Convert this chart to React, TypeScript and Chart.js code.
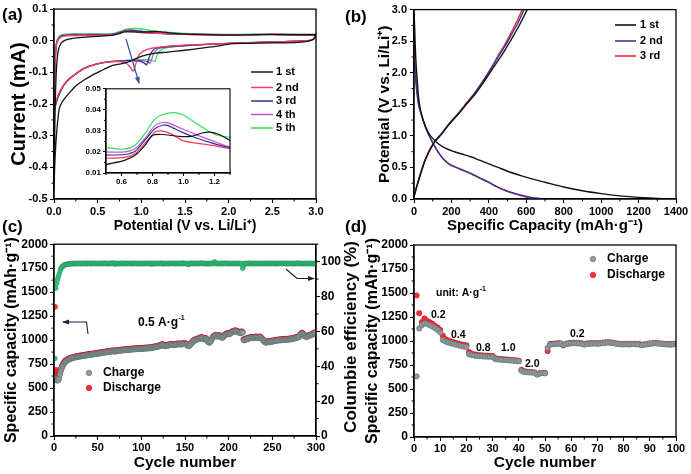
import React, { useEffect, useRef } from "react";
import { Chart, registerables } from "chart.js";

Chart.register(...registerables);

const FONT = "'Liberation Sans', Arial, Helvetica, sans-serif";

// ---------------- Panel (a): cyclic voltammetry ----------------
const cvLabels = ["1 st", "2 nd", "3 rd", "4 th", "5 th"];
const cvColors = ["#141414", "#ff3a5c", "#283593", "#c94fcf", "#34e05a"];

const cv1V = [3.0, 2.98, 2.9, 2.8, 2.5, 2.2, 2.05, 1.95, 1.85, 1.67, 1.5, 1.3, 1.17, 1.06, 0.95, 0.87, 0.78, 0.72, 0.65, 0.53, 0.43, 0.34, 0.25, 0.18, 0.13, 0.09, 0.06, 0.04, 0.025, 0.012, 0.004, 0.0,
  0.008, 0.016, 0.03, 0.05, 0.08, 0.13, 0.2, 0.3, 0.4, 0.5, 0.62, 0.69, 0.75, 0.8, 0.86, 0.97, 1.05, 1.12, 1.17, 1.23, 1.3, 1.45, 1.7, 2.0, 2.3, 2.6, 2.85, 2.97, 3.0];
const cv1I = [0.02, 0.006, -0.002, -0.005, -0.007, -0.008, -0.009, -0.013, -0.018, -0.024, -0.03, -0.036, -0.039, -0.045, -0.055, -0.065, -0.072, -0.075, -0.08, -0.096, -0.11, -0.125, -0.143, -0.163, -0.18, -0.195, -0.215, -0.26, -0.31, -0.37, -0.43, -0.47,
  -0.3, -0.18, -0.08, -0.03, -0.008, 0.002, 0.007, 0.01, 0.012, 0.014, 0.016, 0.0185, 0.023, 0.0278, 0.0283, 0.0274, 0.0274, 0.029, 0.0294, 0.0283, 0.0255, 0.022, 0.02, 0.018, 0.019, 0.019, 0.019, 0.019, 0.02];

const cv2V = [3.0, 2.97, 2.9, 2.5, 2.0, 1.5, 1.2, 1.06, 0.98, 0.94, 0.91, 0.88, 0.83, 0.75, 0.64, 0.49, 0.34, 0.18, 0.11, 0.05, 0.015, 0.0,
  0.005, 0.015, 0.03, 0.06, 0.1, 0.2, 0.35, 0.5, 0.62, 0.69, 0.75, 0.815, 0.86, 0.92, 0.99, 1.07, 1.18, 1.3, 1.5, 2.0, 2.4, 2.55, 2.7, 2.97, 3.0];
const cv2I = [0.02, 0.005, 0.0, -0.004, -0.008, -0.014, -0.02, -0.028, -0.042, -0.07, -0.096, -0.086, -0.072, -0.066, -0.067, -0.074, -0.089, -0.12, -0.14, -0.17, -0.2, -0.215,
  -0.15, -0.06, -0.01, 0.008, 0.014, 0.016, 0.016, 0.017, 0.0174, 0.0193, 0.024, 0.0294, 0.03, 0.0286, 0.0255, 0.0243, 0.0232, 0.0216, 0.02, 0.018, 0.02, 0.022, 0.019, 0.018, 0.02];

const cv3V = [3.0, 2.97, 2.9, 2.5, 2.0, 1.5, 1.25, 1.15, 1.1, 1.06, 1.03, 0.98, 0.85, 0.64, 0.49, 0.34, 0.18, 0.11, 0.05, 0.015, 0.0,
  0.005, 0.015, 0.03, 0.06, 0.1, 0.2, 0.35, 0.5, 0.62, 0.69, 0.75, 0.815, 0.87, 0.9, 0.99, 1.07, 1.18, 1.3, 1.5, 2.0, 2.5, 2.97, 3.0];
const cv3I = [0.02, 0.005, 0.0, -0.004, -0.008, -0.015, -0.02, -0.026, -0.045, -0.076, -0.07, -0.064, -0.063, -0.066, -0.073, -0.088, -0.12, -0.142, -0.175, -0.205, -0.22,
  -0.15, -0.06, -0.008, 0.01, 0.016, 0.018, 0.018, 0.0185, 0.0188, 0.0205, 0.0255, 0.031, 0.0328, 0.0325, 0.0294, 0.027, 0.0243, 0.022, 0.02, 0.019, 0.02, 0.019, 0.02];

const cv4V = [3.0, 2.97, 2.9, 2.5, 2.0, 1.5, 1.28, 1.19, 1.14, 1.1, 1.07, 1.0, 0.85, 0.64, 0.49, 0.34, 0.18, 0.11, 0.05, 0.015, 0.0,
  0.005, 0.015, 0.03, 0.06, 0.1, 0.2, 0.35, 0.5, 0.62, 0.69, 0.75, 0.815, 0.87, 0.91, 0.99, 1.07, 1.18, 1.3, 1.5, 2.0, 2.5, 2.97, 3.0];
const cv4I = [0.02, 0.005, 0.0, -0.004, -0.008, -0.015, -0.02, -0.026, -0.042, -0.071, -0.066, -0.062, -0.062, -0.066, -0.073, -0.088, -0.118, -0.14, -0.172, -0.205, -0.22,
  -0.15, -0.05, -0.005, 0.012, 0.018, 0.02, 0.02, 0.02, 0.02, 0.0216, 0.0263, 0.0325, 0.034, 0.0336, 0.031, 0.0286, 0.0255, 0.0224, 0.021, 0.019, 0.02, 0.02, 0.02];

const cv5V = [3.0, 2.97, 2.9, 2.5, 2.0, 1.5, 1.32, 1.24, 1.19, 1.155, 1.12, 1.05, 0.88, 0.64, 0.49, 0.34, 0.18, 0.11, 0.05, 0.015, 0.0,
  0.005, 0.015, 0.03, 0.06, 0.1, 0.2, 0.35, 0.5, 0.62, 0.687, 0.75, 0.815, 0.87, 0.934, 0.988, 1.074, 1.16, 1.225, 1.3, 1.5, 2.0, 2.5, 2.97, 3.0];
const cv5I = [0.02, 0.005, 0.0, -0.004, -0.008, -0.016, -0.021, -0.027, -0.04, -0.066, -0.062, -0.06, -0.061, -0.067, -0.074, -0.089, -0.12, -0.142, -0.175, -0.21, -0.225,
  -0.15, -0.05, -0.003, 0.014, 0.02, 0.022, 0.022, 0.0221, 0.0213, 0.0232, 0.0286, 0.0356, 0.0379, 0.0387, 0.0379, 0.034, 0.03, 0.0278, 0.027, 0.023, 0.02, 0.021, 0.02, 0.02];

const aXTicks = [0, 0.5, 1, 1.5, 2, 2.5, 3];
const aYTicks = [-0.5, -0.4, -0.3, -0.2, -0.1, 0, 0.1];
const insetXTicks = [0.6, 0.8, 1.0, 1.2];
const insetYTicks = [0.01, 0.02, 0.03, 0.04, 0.05];

// ---------------- Panel (b): charge / discharge profiles ----------------
const gcLabels = ["1 st", "2 nd", "3 rd"];
const gcColors = ["#111111", "#2f3b9c", "#ff2438"];

const b1DisC = [0, 3, 7, 12, 18, 25, 35, 50, 77, 100, 130, 170, 219, 270, 308, 350, 397, 450, 500, 575, 640, 700, 800, 900, 1000, 1100, 1200, 1300, 1350];
const b1DisV = [2.95, 2.75, 2.4, 2.1, 1.85, 1.6, 1.4, 1.24, 1.05, 0.96, 0.875, 0.8, 0.745, 0.7, 0.665, 0.615, 0.56, 0.5, 0.44, 0.366, 0.31, 0.265, 0.19, 0.13, 0.085, 0.05, 0.025, 0.01, 0.0];
const b1ChC = [0, 20, 59, 103, 148, 190, 237, 280, 326, 370, 415, 455, 486, 520, 557, 585, 605];
const b1ChV = [0.04, 0.25, 0.61, 0.875, 1.03, 1.19, 1.345, 1.5, 1.66, 1.84, 2.04, 2.22, 2.36, 2.53, 2.72, 2.88, 3.0];

const b2DisC = [0, 5, 10, 16, 25, 41, 60, 77, 95, 112, 140, 166, 190, 219, 260, 308, 350, 397, 440, 486, 530, 575, 620, 660, 690];
const b2DisV = [2.3, 2.05, 1.85, 1.66, 1.48, 1.32, 1.15, 1.03, 0.92, 0.83, 0.7, 0.61, 0.55, 0.51, 0.46, 0.4, 0.335, 0.27, 0.2, 0.14, 0.095, 0.06, 0.03, 0.012, 0.0];
const b2ChC = [0, 20, 59, 103, 148, 190, 237, 280, 326, 370, 415, 455, 486, 520, 557, 588];
const b2ChV = [0.04, 0.25, 0.61, 0.875, 1.04, 1.2, 1.355, 1.51, 1.68, 1.87, 2.08, 2.28, 2.42, 2.6, 2.8, 3.0];

const b3DisC = [0, 3, 7, 12, 18, 27, 41, 60, 77, 95, 112, 140, 166, 190, 219, 260, 308, 350, 397, 440, 486, 530, 575, 615, 650];
const b3DisV = [2.65, 2.3, 2.05, 1.85, 1.68, 1.5, 1.33, 1.15, 1.03, 0.92, 0.82, 0.69, 0.6, 0.545, 0.505, 0.455, 0.395, 0.33, 0.265, 0.195, 0.135, 0.09, 0.05, 0.02, 0.0];
const b3ChC = [0, 20, 59, 103, 148, 190, 237, 280, 326, 370, 415, 455, 486, 520, 557, 578];
const b3ChV = [0.05, 0.26, 0.62, 0.88, 1.04, 1.2, 1.36, 1.52, 1.69, 1.88, 2.09, 2.3, 2.45, 2.64, 2.86, 3.0];

const bXTicks = [0, 200, 400, 600, 800, 1000, 1200, 1400];
const bYTicks = [0, 0.5, 1, 1.5, 2, 2.5, 3];

// ---------------- Panel (c): cycling at 0.5 A/g ----------------
const cycleNumbers = Array.from({ length: 300 }, (_, i) => i + 1);
const capDischarge = [
  1347, 690, 662, 645, 636, 648, 675, 705, 728, 748,
  762, 775, 785, 792, 798, 803, 808, 812, 815, 818,
  820, 823, 826, 828, 830, 832, 834, 836, 837, 839,
  840, 842, 843, 845, 846, 848, 849, 850, 852, 853,
  855, 856, 857, 859, 860, 862, 863, 864, 866, 867,
  869, 870, 872, 873, 875, 876, 878, 879, 880, 882,
  883, 884, 886, 887, 888, 890, 891, 892, 893, 886,
  894, 895, 896, 897, 898, 899, 900, 901, 902, 903,
  904, 905, 906, 907, 908, 908, 909, 910, 911, 912,
  912, 913, 914, 914, 915, 916, 916, 917, 918, 918,
  919, 919, 920, 921, 921, 922, 922, 923, 924, 924,
  925, 927, 929, 931, 933, 935, 937, 939, 941, 943,
  945, 950, 955, 957, 953, 948, 946, 947, 949, 951,
  953, 955, 957, 958, 960, 958, 956, 957, 960, 962,
  963, 965, 966, 964, 962, 963, 966, 968, 970, 968,
  965, 958, 950, 945, 948, 958, 970, 980, 990, 1000,
  1005, 1008, 1012, 1015, 1018, 1020, 1022, 1030, 1035, 1028,
  1020, 1015, 1018, 1022, 1010, 995, 985, 980, 990, 1000,
  1020, 1035, 1045, 1050, 1055, 1050, 1045, 1048, 1052, 1048,
  1040, 1035, 1030, 1045, 1055, 1060, 1065, 1070, 1075, 1072,
  1070, 1078, 1085, 1090, 1095, 1098, 1100, 1102, 1098, 1095,
  1090, 1085, 1080, 1088, 1092, 1085, 1010, 1005, 1010, 1015,
  1020, 1025, 1022, 1028, 1032, 1035, 1030, 1028, 1032, 1035,
  1038, 1036, 1032, 1028, 1035, 1038, 1030, 1020, 1010, 1000,
  990, 985, 982, 985, 990, 988, 985, 990, 995, 992,
  995, 998, 1000, 1002, 1003, 1005, 1006, 1005, 1007, 1008,
  1008, 1010, 1011, 1010, 1012, 1013, 1012, 1014, 1015, 1016,
  1017, 1018, 1020, 1022, 1025, 1028, 1030, 1032, 1035, 1040,
  1045, 1060, 1070, 1078, 1072, 1060, 1050, 1045, 1042, 1045,
  1048, 1052, 1055, 1060, 1062, 1068, 1072, 1078, 1082, 1085,
];
const capCharge = [
  600, 585, 580, 578, 581, 602, 640, 678, 705, 728,
  745, 760, 771, 779, 786, 792, 797, 801, 805, 808,
  811, 814, 817, 819, 821, 823, 825, 827, 828, 830,
  831, 833, 834, 836, 837, 839, 840, 841, 843, 844,
  846, 847, 848, 850, 851, 853, 854, 855, 857, 858,
  860, 861, 863, 864, 866, 867, 869, 870, 871, 873,
  874, 875, 877, 878, 879, 881, 882, 883, 884, 878,
  885, 886, 887, 888, 889, 890, 891, 892, 893, 894,
  895, 896, 897, 898, 899, 899, 900, 901, 902, 903,
  903, 904, 905, 905, 906, 907, 907, 908, 909, 909,
  910, 910, 911, 912, 912, 913, 913, 914, 915, 915,
  916, 918, 920, 922, 924, 926, 928, 930, 932, 934,
  936, 941, 946, 948, 944, 939, 937, 938, 940, 942,
  944, 946, 948, 949, 951, 949, 947, 948, 951, 953,
  954, 956, 957, 955, 953, 954, 957, 959, 961, 959,
  956, 949, 941, 936, 939, 949, 961, 971, 981, 991,
  996, 999, 1003, 1006, 1009, 1011, 1013, 1021, 1026, 1019,
  1011, 1006, 1009, 1013, 1001, 986, 976, 971, 981, 991,
  1011, 1026, 1036, 1041, 1046, 1041, 1036, 1039, 1043, 1039,
  1031, 1026, 1021, 1036, 1046, 1051, 1056, 1061, 1066, 1063,
  1061, 1069, 1076, 1081, 1086, 1089, 1091, 1093, 1089, 1086,
  1081, 1076, 1071, 1079, 1083, 1076, 1001, 996, 1001, 1006,
  1011, 1016, 1013, 1019, 1023, 1026, 1021, 1019, 1023, 1026,
  1029, 1027, 1023, 1019, 1026, 1029, 1021, 1011, 1001, 991,
  981, 976, 973, 976, 981, 979, 976, 981, 986, 983,
  986, 989, 991, 993, 994, 996, 997, 996, 998, 999,
  999, 1001, 1002, 1001, 1003, 1004, 1003, 1005, 1006, 1007,
  1008, 1009, 1011, 1013, 1016, 1019, 1021, 1023, 1026, 1031,
  1036, 1051, 1061, 1069, 1063, 1051, 1041, 1036, 1033, 1036,
  1039, 1043, 1046, 1051, 1053, 1059, 1063, 1069, 1073, 1076,
];
const efficiency = [
  44.5, 84.8, 87.6, 89.6, 91.4, 92.9, 94.8, 96.2, 96.8, 97.3,
  97.8, 98.1, 98.2, 98.4, 98.5, 98.6, 98.6, 98.7, 98.8, 98.8,
  98.9, 98.9, 98.8, 99.0, 98.9, 98.9, 99.0, 98.9, 98.9, 99.0,
  98.8, 98.9, 99.0, 98.9, 99.1, 98.9, 98.8, 98.9, 99.2, 98.9,
  99.0, 98.9, 98.8, 99.0, 98.9, 99.1, 98.9, 98.9, 99.0, 98.8,
  98.9, 99.0, 98.9, 98.8, 99.0, 98.9, 99.1, 99.0, 98.9, 98.9,
  99.0, 98.8, 98.9, 99.0, 98.9, 98.9, 99.3, 98.9, 98.8, 98.6,
  99.0, 98.9, 99.0, 98.9, 98.8, 99.0, 98.9, 99.1, 98.9, 98.9,
  98.9, 99.0, 98.8, 98.9, 99.0, 98.9, 99.0, 98.9, 98.8, 99.0,
  98.9, 99.0, 98.9, 99.1, 98.9, 98.8, 98.9, 99.0, 98.9, 98.9,
  99.0, 98.9, 98.8, 99.0, 98.9, 99.0, 98.9, 98.9, 99.1, 98.9,
  98.9, 98.6, 98.9, 99.0, 98.9, 98.8, 99.0, 98.9, 99.0, 98.9,
  98.9, 99.2, 99.0, 98.9, 98.7, 98.9, 99.0, 98.9, 98.9, 99.0,
  98.8, 98.9, 99.0, 98.9, 99.1, 98.9, 98.9, 99.0, 98.8, 98.9,
  99.0, 98.9, 98.9, 99.0, 98.8, 98.9, 99.2, 98.9, 98.9, 99.0,
  98.9, 98.8, 98.9, 98.3, 98.9, 99.0, 98.9, 99.1, 98.9, 98.9,
  99.0, 98.9, 99.0, 98.8, 98.9, 99.0, 98.9, 99.2, 99.0, 98.9,
  98.9, 98.9, 99.0, 98.8, 98.9, 99.0, 98.7, 98.9, 99.0, 98.9,
  98.9, 99.0, 99.3, 99.8, 99.0, 98.9, 98.9, 99.0, 98.8, 98.9,
  99.0, 98.9, 98.9, 99.0, 98.9, 99.1, 98.9, 98.9, 99.0, 98.9,
  98.8, 98.9, 99.0, 98.9, 99.0, 98.9, 98.8, 98.9, 99.0, 98.9,
  98.9, 99.0, 98.9, 98.8, 98.9, 96.2, 97.8, 98.9, 99.0, 98.9,
  98.9, 99.0, 98.9, 99.1, 98.9, 98.9, 99.0, 98.8, 98.9, 99.0,
  98.9, 98.9, 99.0, 98.9, 98.8, 99.0, 98.9, 99.0, 98.9, 98.9,
  99.0, 98.9, 98.8, 99.0, 98.9, 98.9, 99.1, 98.9, 98.9, 99.0,
  98.9, 99.0, 98.9, 98.8, 98.9, 99.0, 98.9, 98.9, 99.0, 98.9,
  98.9, 99.0, 98.9, 99.1, 98.9, 98.8, 98.9, 99.0, 98.9, 98.9,
  99.0, 98.9, 98.9, 99.0, 98.8, 98.9, 99.0, 98.9, 99.2, 98.9,
  98.9, 99.0, 98.9, 98.9, 99.0, 98.8, 98.9, 99.0, 98.9, 98.9,
  99.0, 98.9, 98.9, 99.0, 98.9, 98.8, 99.0, 98.9, 98.9, 99.0,
];
const cXTicks = [0, 50, 100, 150, 200, 250, 300];
const capTicks = [0, 250, 500, 750, 1000, 1250, 1500, 1750, 2000];
const effTicks = [0, 20, 40, 60, 80, 100];

// ---------------- Panel (d): rate capability ----------------
const rateCycles = Array.from({ length: 100 }, (_, i) => i + 1);
const rateDischarge = [
  1475, 1290, 1195, 1235, 1210, 1195, 1180, 1160, 1140, 1115,
  1055, 1020, 1005, 995, 988, 980, 972, 965, 958, 955,
  885, 868, 860, 855, 852, 850, 848, 847, 845, 845,
  820, 815, 812, 810, 808, 806, 803, 800, 798, 795,
  700, 685, 680, 678, 676, 673, 652, 665, 668, 667,
  895, 968, 972, 974, 976, 975, 955, 972, 976, 980,
  982, 980, 978, 976, 965, 974, 976, 977, 978, 976,
  978, 982, 985, 988, 986, 982, 975, 972, 970, 968,
  970, 968, 970, 972, 969, 968, 960, 965, 970, 975,
  978, 980, 978, 975, 972, 970, 968, 966, 970, 972,
];
const rateCharge = [
  632, 1130, 1165, 1185, 1178, 1165, 1150, 1135, 1115, 1090,
  1010, 995, 985, 976, 970, 962, 955, 948, 942, 938,
  862, 853, 848, 845, 842, 840, 838, 837, 836, 835,
  812, 808, 805, 803, 801, 799, 797, 795, 792, 790,
  690, 678, 675, 673, 671, 668, 650, 662, 665, 664,
  930, 962, 967, 970, 972, 971, 958, 968, 972, 976,
  978, 976, 974, 972, 963, 970, 972, 973, 974, 972,
  974, 978, 981, 984, 982, 978, 972, 968, 966, 964,
  966, 964, 966, 968, 965, 964, 957, 961, 966, 971,
  974, 976, 974, 971, 968, 966, 964, 962, 966, 968,
];
const rateLabels = ["0.2", "0.4", "0.8", "1.0", "2.0", "0.2"];
const dXTicks = [0, 10, 20, 30, 40, 50, 60, 70, 80, 90, 100];

// ---------------- styling ----------------
const RED_FILL = "#ff2d3c";
const RED_EDGE = "#c8101c";
const GREY_FILL = "#8c9b9b";
const GREY_EDGE = "#5e6e6e";
const GREEN_FILL = "#3dbd7d";
const GREEN_EDGE = "#1f9a5c";
const ARROW_BLUE = "#2f4fa5";
const ARROW_DARK = "#1c2340";

const xy = (xs: number[], ys: number[]) => xs.map((x, i) => ({ x, y: ys[i] }));

function linAxis(o: any) {
  const horizontal = o.position === "bottom";
  return {
    type: "linear",
    position: o.position,
    min: o.min,
    max: o.max,
    afterBuildTicks: (s: any) => {
      s.ticks = o.ticks.map((v: number) => ({ value: v }));
    },
    afterFit: (s: any) => {
      if (horizontal) s.height = o.size;
      else s.width = o.size;
    },
    grid: { display: true, drawOnChartArea: false, drawTicks: true, tickLength: o.tickLen ?? 4, tickColor: "#000", tickWidth: 1.1 },
    border: { display: true, color: "#000", width: 1.3 },
    ticks: {
      autoSkip: false,
      maxRotation: 0,
      padding: o.tickPad ?? 2,
      color: "#000",
      font: { family: FONT, size: o.font, weight: "bold" },
      callback: (v: number) => o.fmt(v),
    },
    title: o.title
      ? {
          display: true,
          text: o.title,
          color: "#000",
          font: { family: FONT, size: o.titleSize, weight: "bold" },
          padding: horizontal ? { top: 0, bottom: o.titlePad ?? 0 } : { top: o.titlePad ?? 0, bottom: 0 },
        }
      : { display: false },
  };
}

function makeExtras(cfg: any) {
  return {
    id: "extras",
    beforeDraw(chart: any) {
      if (!cfg.fill) return;
      const { left, top, right, bottom } = chart.chartArea;
      const ctx = chart.ctx;
      ctx.save();
      ctx.fillStyle = cfg.fill;
      ctx.fillRect(left, top, right - left, bottom - top);
      ctx.restore();
    },
    afterDraw(chart: any) {
      const ctx: CanvasRenderingContext2D = chart.ctx;
      const { left, top, right, bottom } = chart.chartArea;
      ctx.save();
      ctx.strokeStyle = "#000";
      ctx.lineWidth = cfg.frameWidth ?? 1.3;
      ctx.strokeRect(left, top, right - left, bottom - top);
      ctx.lineWidth = 1;
      for (const m of cfg.minor || []) {
        const s = chart.scales[m.id];
        const k0 = Math.ceil(s.min / m.step - 1e-6);
        const k1 = Math.floor(s.max / m.step + 1e-6);
        for (let k = k0; k <= k1; k++) {
          const v = k * m.step;
          if (s.ticks.some((t: any) => Math.abs(t.value - v) < m.step * 0.01)) continue;
          const p = s.getPixelForValue(v);
          ctx.beginPath();
          if (s.position === "left") {
            ctx.moveTo(left, p);
            ctx.lineTo(left - m.len, p);
          } else if (s.position === "right") {
            ctx.moveTo(right, p);
            ctx.lineTo(right + m.len, p);
          } else {
            ctx.moveTo(p, bottom);
            ctx.lineTo(p, bottom + m.len);
          }
          ctx.stroke();
        }
      }
      if (cfg.draw) cfg.draw(ctx, chart);
      ctx.restore();
    },
  };
}

function supText(ctx: CanvasRenderingContext2D, base: string, sup: string, x: number, y: number, size: number) {
  ctx.textAlign = "left";
  ctx.textBaseline = "middle";
  ctx.fillStyle = "#000";
  ctx.font = `bold ${size}px ${FONT}`;
  ctx.fillText(base, x, y);
  if (sup) {
    const w = ctx.measureText(base).width;
    ctx.font = `bold ${Math.round(size * 0.62)}px ${FONT}`;
    ctx.fillText(sup, x + w + 0.5, y - size * 0.4);
  }
}

function arrow(ctx: CanvasRenderingContext2D, pts: number[][], color: string, lw = 1.2, head = 6) {
  ctx.strokeStyle = color;
  ctx.fillStyle = color;
  ctx.lineWidth = lw;
  ctx.beginPath();
  ctx.moveTo(pts[0][0], pts[0][1]);
  for (let i = 1; i < pts.length; i++) ctx.lineTo(pts[i][0], pts[i][1]);
  ctx.stroke();
  const [x1, y1] = pts[pts.length - 2];
  const [x2, y2] = pts[pts.length - 1];
  const a = Math.atan2(y2 - y1, x2 - x1);
  const c = Math.cos(a), s = Math.sin(a);
  ctx.beginPath();
  ctx.moveTo(x2 + c * 1, y2 + s * 1);
  ctx.lineTo(x2 - head * c + head * 0.42 * s, y2 - head * s - head * 0.42 * c);
  ctx.lineTo(x2 - head * c - head * 0.42 * s, y2 - head * s + head * 0.42 * c);
  ctx.closePath();
  ctx.fill();
}

function ball(ctx: CanvasRenderingContext2D, x: number, y: number, r: number, fill: string, edge: string) {
  ctx.beginPath();
  ctx.arc(x, y, r, 0, Math.PI * 2);
  ctx.fillStyle = fill;
  ctx.fill();
  ctx.strokeStyle = edge;
  ctx.lineWidth = 0.6;
  ctx.stroke();
}

const baseOptions = (padding: any) => ({
  animation: false,
  responsive: false,
  devicePixelRatio: 1,
  layout: { padding },
  plugins: { legend: { display: false }, tooltip: { enabled: false } },
});

function cvDatasets(width: number) {
  const V = [cv1V, cv2V, cv3V, cv4V, cv5V];
  const I = [cv1I, cv2I, cv3I, cv4I, cv5I];
  return V.map((v, k) => ({
    label: cvLabels[k],
    data: xy(v, I[k]),
    borderColor: cvColors[k],
    backgroundColor: cvColors[k],
    borderWidth: width,
    showLine: true,
    pointRadius: 0,
    tension: 0.25,
    fill: false,
  }));
}

function configA(): any {
  return {
    type: "scatter",
    data: { datasets: cvDatasets(1.3) },
    options: {
      ...baseOptions({ left: 0, top: 7, right: 29, bottom: 0 }),
      scales: {
        x: linAxis({ position: "bottom", min: 0, max: 3, ticks: aXTicks, fmt: (v: number) => v.toFixed(1), font: 11, size: 36, title: "Potential (V vs. Li/Li\u207A)", titleSize: 14, titlePad: 0, tickLen: 4, tickPad: 2.5 }),
        y: linAxis({ position: "left", min: -0.5, max: 0.1, ticks: aYTicks, fmt: (v: number) => v.toFixed(1), font: 11, size: 54, title: "Current (mA)", titleSize: 20, titlePad: 7.5, tickLen: 4, tickPad: 2.5 }),
      },
    },
    plugins: [
      makeExtras({
        minor: [{ id: "x", step: 0.25, len: 2.5 }, { id: "y", step: 0.05, len: 2.5 }],
        draw: (ctx: CanvasRenderingContext2D) => {
          const rows = [72, 87.5, 101, 114.5, 128];
          cvLabels.forEach((lab, k) => {
            ctx.strokeStyle = cvColors[k];
            ctx.lineWidth = 1.5;
            ctx.beginPath();
            ctx.moveTo(251, rows[k]);
            ctx.lineTo(273, rows[k]);
            ctx.stroke();
            supText(ctx, lab, "", 276, rows[k], 11);
          });
          arrow(ctx, [[126, 39], [139, 83]], ARROW_BLUE, 1.2, 6);
        },
      }),
    ],
  };
}

function configInset(): any {
  return {
    type: "scatter",
    data: { datasets: cvDatasets(1.2) },
    options: {
      ...baseOptions({ left: 0, top: 5, right: 8, bottom: 0 }),
      scales: {
        x: linAxis({ position: "bottom", min: 0.5, max: 1.3, ticks: insetXTicks, fmt: (v: number) => v.toFixed(1), font: 8, size: 15, tickLen: 3, tickPad: 1 }),
        y: linAxis({ position: "left", min: 0.01, max: 0.05, ticks: insetYTicks, fmt: (v: number) => v.toFixed(2), font: 8, size: 28, tickLen: 3, tickPad: 2 }),
      },
    },
    plugins: [makeExtras({ fill: "#ffffff", frameWidth: 1.1, minor: [{ id: "x", step: 0.1, len: 2 }, { id: "y", step: 0.005, len: 2 }] })],
  };
}

function configB(): any {
  const dis = [[b1DisC, b1DisV], [b2DisC, b2DisV], [b3DisC, b3DisV]];
  const ch = [[b1ChC, b1ChV], [b2ChC, b2ChV], [b3ChC, b3ChV]];
  const datasets: any[] = [];
  for (let k = 0; k < 3; k++) {
    for (const [xs, ys] of [dis[k], ch[k]]) {
      datasets.push({
        label: gcLabels[k],
        data: xy(xs as number[], ys as number[]),
        borderColor: gcColors[k],
        backgroundColor: gcColors[k],
        borderWidth: 1.4,
        showLine: true,
        pointRadius: 0,
        cubicInterpolationMode: "monotone",
        fill: false,
      });
    }
  }
  return {
    type: "scatter",
    data: { datasets },
    options: {
      ...baseOptions({ left: 0, top: 8, right: 15, bottom: 0 }),
      scales: {
        x: linAxis({ position: "bottom", min: 0, max: 1400, ticks: bXTicks, fmt: (v: number) => String(v), font: 11, size: 36, title: "Specific Capacity (mAh\u00B7g\u207B\u00B9)", titleSize: 15, titlePad: 0, tickLen: 4, tickPad: 2.5 }),
        y: linAxis({ position: "left", min: 0, max: 3, ticks: bYTicks, fmt: (v: number) => v.toFixed(1), font: 11, size: 69, title: "Potential (V vs. Li/Li\u207A)", titleSize: 15.5, titlePad: 30, tickLen: 4, tickPad: 3 }),
      },
    },
    plugins: [
      makeExtras({
        minor: [{ id: "x", step: 100, len: 2.5 }, { id: "y", step: 0.25, len: 2.5 }],
        draw: (ctx: CanvasRenderingContext2D) => {
          const rows = [25, 41, 56];
          gcLabels.forEach((lab, k) => {
            ctx.strokeStyle = gcColors[k];
            ctx.lineWidth = 1.6;
            ctx.beginPath();
            ctx.moveTo(270, rows[k]);
            ctx.lineTo(291, rows[k]);
            ctx.stroke();
            supText(ctx, lab, "", 295, rows[k], 11);
          });
        },
      }),
    ],
  };
}

function pointSet(label: string, xs: number[], ys: number[], fill: string, edge: string, r: number, axis: string) {
  return {
    label,
    data: xy(xs, ys),
    yAxisID: axis,
    showLine: false,
    pointRadius: r,
    pointBackgroundColor: fill,
    pointBorderColor: edge,
    pointBorderWidth: 0.6,
  };
}

function configC(): any {
  return {
    type: "scatter",
    data: {
      datasets: [
        pointSet("Charge", cycleNumbers, capCharge, GREY_FILL, GREY_EDGE, 2.6, "y"),
        pointSet("Discharge", cycleNumbers, capDischarge, RED_FILL, RED_EDGE, 2.6, "y"),
        pointSet("Columbie efficiency", cycleNumbers, efficiency, GREEN_FILL, GREEN_EDGE, 2.4, "y1"),
      ],
    },
    options: {
      ...baseOptions({ left: 0, top: 9, right: 0, bottom: 0 }),
      scales: {
        x: linAxis({ position: "bottom", min: 0, max: 300, ticks: cXTicks, fmt: (v: number) => String(v), font: 11, size: 38, title: "Cycle number", titleSize: 15.5, titlePad: 2, tickLen: 4, tickPad: 1 }),
        y: linAxis({ position: "left", min: 0, max: 2000, ticks: capTicks, fmt: (v: number) => String(v), font: 12, size: 54, title: "Specific capacity (mAh\u00B7g\u207B\u00B9)", titleSize: 16, titlePad: 2, tickLen: 4, tickPad: 2 }),
        y1: linAxis({ position: "right", min: 0, max: 110, ticks: effTicks, fmt: (v: number) => String(v), font: 12, size: 46, tickLen: 4, tickPad: 1 }),
      },
    },
    plugins: [
      makeExtras({
        minor: [{ id: "x", step: 25, len: 2.5 }, { id: "y", step: 125, len: 2.5 }, { id: "y1", step: 10, len: 2.5 }],
        draw: (ctx: CanvasRenderingContext2D) => {
          ball(ctx, 89, 138, 2.8, GREY_FILL, GREY_EDGE);
          supText(ctx, "Charge", "", 103, 138, 12);
          ball(ctx, 89, 153, 2.8, RED_FILL, RED_EDGE);
          supText(ctx, "Discharge", "", 103, 153, 12);
          supText(ctx, "0.5 A\u00B7g", "-1", 138, 87.5, 12);
          arrow(ctx, [[88, 99], [86.5, 87], [63, 87]], ARROW_DARK, 1.1, 6);
          arrow(ctx, [[286, 34], [297, 43.5], [314, 43.5]], ARROW_DARK, 1.1, 6);
          ctx.save();
          ctx.translate(351, 102);
          ctx.rotate(-Math.PI / 2);
          ctx.font = `bold 17px ${FONT}`;
          ctx.fillStyle = "#000";
          ctx.textAlign = "center";
          ctx.textBaseline = "middle";
          ctx.fillText("Columbie efficiency (%)", 0, 0);
          ctx.restore();
        },
      }),
    ],
  };
}

function configD(): any {
  return {
    type: "scatter",
    data: {
      datasets: [
        pointSet("Charge", rateCycles, rateCharge, GREY_FILL, GREY_EDGE, 2.7, "y"),
        pointSet("Discharge", rateCycles, rateDischarge, RED_FILL, RED_EDGE, 2.7, "y"),
      ],
    },
    options: {
      ...baseOptions({ left: 0, top: 10, right: 15, bottom: 0 }),
      scales: {
        x: linAxis({ position: "bottom", min: 0, max: 100, ticks: dXTicks, fmt: (v: number) => String(v), font: 11, size: 37, title: "Cycle number", titleSize: 15.5, titlePad: 2, tickLen: 4, tickPad: 1 }),
        y: linAxis({ position: "left", min: 0, max: 2000, ticks: capTicks, fmt: (v: number) => String(v), font: 12, size: 69, title: "Specific capacity (mAh\u00B7g\u207B\u00B9)", titleSize: 16, titlePad: 18, tickLen: 4, tickPad: 2 }),
      },
    },
    plugins: [
      makeExtras({
        minor: [{ id: "x", step: 5, len: 2.5 }, { id: "y", step: 125, len: 2.5 }],
        draw: (ctx: CanvasRenderingContext2D) => {
          ball(ctx, 248, 24, 2.8, GREY_FILL, GREY_EDGE);
          supText(ctx, "Charge", "", 262, 24, 12);
          ball(ctx, 248, 40, 2.8, RED_FILL, RED_EDGE);
          supText(ctx, "Discharge", "", 262, 40, 12);
          supText(ctx, "unit: A\u00B7g", "-1", 91, 58, 10.5);
          const pos = [[86, 80], [106, 100], [131, 113.5], [156, 113], [180, 129], [225, 99.5]];
          rateLabels.forEach((t, i) => supText(ctx, t, "", pos[i][0], pos[i][1], 10.5));
        },
      }),
    ],
  };
}

const panelLetter = (left: number, top: number): React.CSSProperties => ({
  position: "absolute",
  left,
  top,
  font: `bold 17px ${FONT}`,
  lineHeight: "17px",
  color: "#000",
  margin: 0,
});

export default function App() {
  const refA = useRef<HTMLCanvasElement>(null);
  const refInset = useRef<HTMLCanvasElement>(null);
  const refB = useRef<HTMLCanvasElement>(null);
  const refC = useRef<HTMLCanvasElement>(null);
  const refD = useRef<HTMLCanvasElement>(null);

  useEffect(() => {
    document.body.style.margin = "0";
    const charts = [
      new Chart(refA.current!, configA()),
      new Chart(refInset.current!, configInset()),
      new Chart(refB.current!, configB()),
      new Chart(refC.current!, configC()),
      new Chart(refD.current!, configD()),
    ];
    return () => charts.forEach((c) => c.destroy());
  }, []);

  const abs = (left: number, top: number, w: number, h: number): React.CSSProperties => ({
    position: "absolute",
    left,
    top,
    width: w,
    height: h,
    display: "block",
  });

  return (
    <div style={{ position: "relative", width: 691, height: 474, background: "#fff", overflow: "hidden" }}>
      <canvas ref={refA} width={345} height={235} style={abs(0, 0, 345, 235)} />
      <canvas ref={refInset} width={160} height={106} style={abs(78, 82, 160, 106)} />
      <canvas ref={refB} width={346} height={235} style={abs(345, 0, 346, 235)} />
      <canvas ref={refC} width={362} height={239} style={abs(0, 235, 362, 239)} />
      <canvas ref={refD} width={346} height={239} style={abs(345, 235, 346, 239)} />
      <div style={panelLetter(2, 6)}>(a)</div>
      <div style={panelLetter(345, 8)}>(b)</div>
      <div style={panelLetter(2, 218)}>(c)</div>
      <div style={panelLetter(345, 218)}>(d)</div>
    </div>
  );
}
